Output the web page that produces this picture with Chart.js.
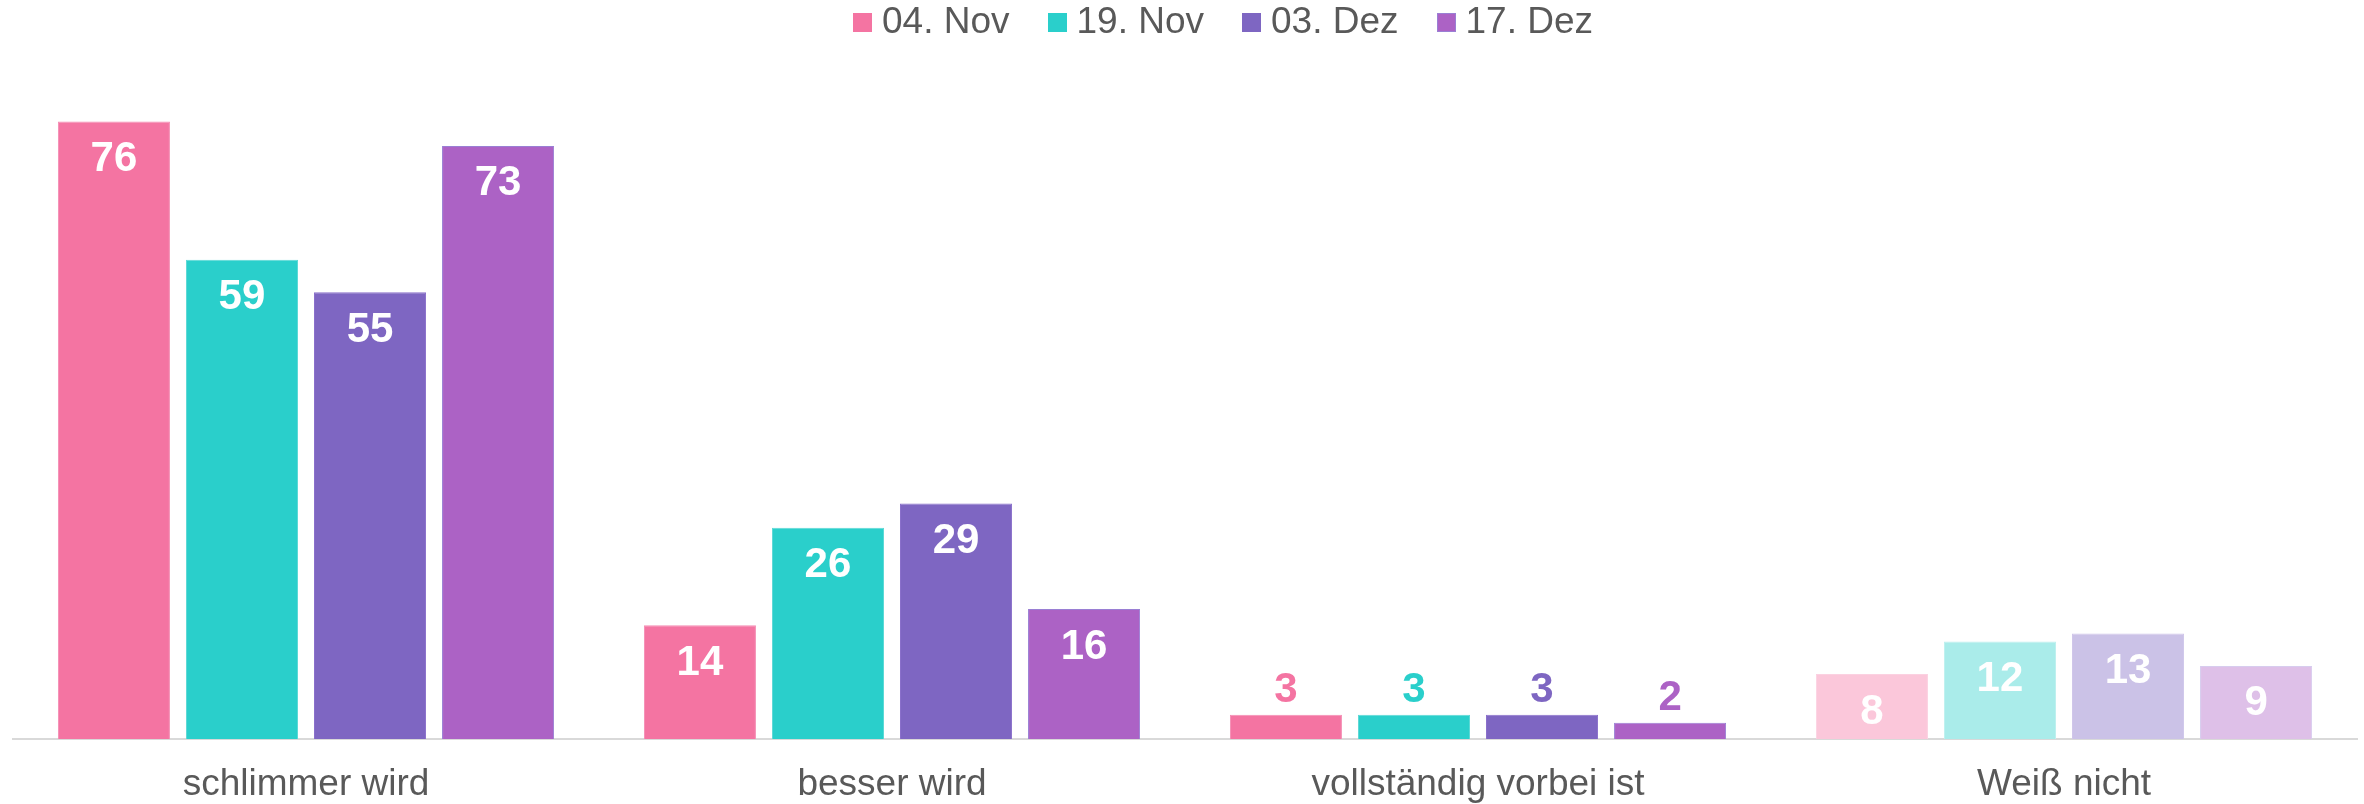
<!DOCTYPE html>
<html lang="de">
<head>
<meta charset="utf-8">
<title>Umfrage</title>
<script src="https://cdn.jsdelivr.net/npm/chart.js@4/dist/chart.umd.min.js"></script>
<style>
    html, body { margin: 0; padding: 0; background: #ffffff; }
    body { width: 2364px; height: 804px; position: relative; overflow: hidden; }
    #legend {
        position: absolute; top: 0; left: 853px;
        display: flex; align-items: flex-start;
        font-family: 'Liberation Sans', Arial, sans-serif; font-size: 37px; color: #595959;
    }
    #legend .item { display: flex; align-items: flex-start; margin-right: 38px; line-height: normal; }
    #legend .box { width: 19px; height: 19px; margin-top: 13px; margin-right: 10px; box-sizing: border-box; }
</style>
</head>
<body>
<div id="legend"></div>
<canvas id="chart" width="2364" height="804"></canvas>
<script>
// Data
const categories = ['schlimmer wird', 'besser wird', 'vollständig vorbei ist', 'Weiß nicht'];
const seriesLabels = ['04. Nov', '19. Nov', '03. Dez', '17. Dez'];
const nov04 = [76, 14, 3, 8];
const nov19 = [59, 26, 3, 12];
const dez03 = [55, 29, 3, 13];
const dez17 = [73, 16, 2, 9];

// Colours
const seriesColors = ['#F474A2', '#2ACFCB', '#7E66C2', '#AC62C5'];
const seriesBorders = ['#F58DB4', '#5CD9D6', '#8A70CB', '#9A7FD4'];
const textGrey = '#595959';
const fontFamily = "'Liberation Sans', Arial, sans-serif";

// "Weiß nicht" bars are shown faded
function fade(hex, alpha) {
    const n = parseInt(hex.slice(1), 16);
    const ch = [(n >> 16) & 255, (n >> 8) & 255, n & 255]
        .map(c => Math.round(255 - (255 - c) * alpha));
    return 'rgb(' + ch.join(',') + ')';
}

const allValues = [nov04, nov19, dez03, dez17];
const datasets = allValues.map((values, i) => ({
    label: seriesLabels[i],
    data: values,
    backgroundColor: categories.map((c, j) => j === 3 ? fade(seriesColors[i], 0.4) : seriesColors[i]),
    borderColor: categories.map((c, j) => j === 3 ? fade(seriesBorders[i], 0.4) : seriesBorders[i]),
    borderWidth: 1,
    categoryPercentage: 0.874,
    barPercentage: 0.875
}));

// value labels: white inside the bar, or in series colour above short bars
const valueLabels = {
    id: 'valueLabels',
    afterDatasetsDraw(chart) {
        const ctx = chart.ctx;
        ctx.save();
        ctx.font = 'bold 42px ' + fontFamily;
        ctx.textAlign = 'center';
        ctx.textBaseline = 'middle';
        chart.data.datasets.forEach((ds, i) => {
            chart.getDatasetMeta(i).data.forEach((bar, j) => {
                const h = bar.base - bar.y;
                if (h < 40) {
                    ctx.fillStyle = seriesColors[i];
                    ctx.fillText(ds.data[j], bar.x, bar.y - 24);
                } else {
                    ctx.fillStyle = '#ffffff';
                    ctx.fillText(ds.data[j], bar.x, bar.y + 38);
                }
            });
        });
        ctx.restore();
    }
};

const chart = new Chart(document.getElementById('chart'), {
    type: 'bar',
    data: { labels: categories, datasets: datasets },
    options: {
        responsive: false,
        animation: false,
        layout: { padding: { top: 89, left: 13, right: 7, bottom: 0 } },
        plugins: {
            legend: { display: false },
            tooltip: { enabled: false }
        },
        scales: {
            x: {
                grid: { display: false, drawTicks: false },
                border: { display: true, color: '#D9D9D9', width: 2 },
                ticks: {
                    padding: 24,
                    color: textGrey,
                    font: { family: fontFamily, size: 37 }
                },
                afterFit: scale => { scale.height = 65; }
            },
            y: {
                display: false,
                min: 0,
                max: 80
            }
        }
    },
    plugins: [valueLabels]
});

// legend built from the chart's datasets
const legendEl = document.getElementById('legend');
chart.data.datasets.forEach((ds, i) => {
    const item = document.createElement('div');
    item.className = 'item';
    const box = document.createElement('span');
    box.className = 'box';
    box.style.background = seriesColors[i];
    if (i === 3) box.style.border = '1px solid ' + seriesBorders[i];
    const txt = document.createElement('span');
    txt.textContent = ds.label;
    item.appendChild(box);
    item.appendChild(txt);
    legendEl.appendChild(item);
});
</script>
</body>
</html>
